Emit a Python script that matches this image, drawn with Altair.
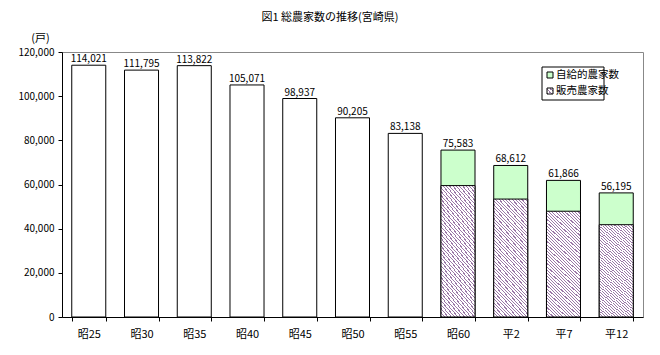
import altair as alt
import pandas as pd

categories = ["昭25", "昭30", "昭35", "昭40", "昭45", "昭50", "昭55", "昭60", "平2", "平7", "平12"]
totals = [114021, 111795, 113822, 105071, 98937, 90205, 83138, 75583, 68612, 61866, 56195]
sales = [None, None, None, None, None, None, None, 59500, 53400, 47900, 41800]
y_ticks = [0, 20000, 40000, 60000, 80000, 100000, 120000]

FONT = "Noto Sans CJK JP"
GREEN = "#ccffcc"
PURPLE = "#9c78a8"


def hatch(n, x1, y1, x2, y2, frac=0.34):
    stops = []
    for k in range(n):
        a = k / n
        b = (k + frac) / n
        c = (k + 1) / n
        stops += [
            alt.GradientStop(offset=a, color=PURPLE),
            alt.GradientStop(offset=b, color=PURPLE),
            alt.GradientStop(offset=b, color="white"),
            alt.GradientStop(offset=c, color="white"),
        ]
    return alt.LinearGradient(gradient="linear", stops=stops, x1=x1, y1=y1, x2=x2, y2=y2)


df = pd.DataFrame({
    "category": categories,
    "total": totals,
    "sales": sales,
    "label": [f"{v:,}" for v in totals],
})
df_old = df[df["sales"].isna()]
df_new = df[df["sales"].notna()]

x_enc = alt.X(
    "category:N",
    sort=categories,
    scale=alt.Scale(domain=categories, paddingInner=0.355, paddingOuter=0.185),
    axis=alt.Axis(
        title=None, labelAngle=0, tickBand="extent", tickSize=4,
        labelFontSize=11, labelPadding=7, labelFont=FONT, labelColor="black",
        domainColor="black", tickColor="black",
    ),
)
y_scale = alt.Scale(domain=[0, 120000], nice=False)
y_axis = alt.Axis(
    values=y_ticks, format=",d", grid=False, title="(戸)", titleAngle=0,
    titleX=-22, titleY=-14, titleAlign="center", titleBaseline="middle",
    titleFont=FONT, titleFontSize=11, titleFontWeight="normal", titleColor="black",
    labelFont=FONT, labelFontSize=10, labelColor="black", tickSize=4,
    domainColor="black", tickColor="black", labelPadding=4,
)

old_bars = alt.Chart(df_old).mark_bar(fill="white", stroke="black", strokeWidth=1).encode(
    x=x_enc, y=alt.Y("total:Q", scale=y_scale, axis=y_axis), y2=alt.datum(0)
)
green_bars = alt.Chart(df_new).mark_bar(fill=GREEN, stroke="black", strokeWidth=1).encode(
    x=x_enc, y=alt.Y("total:Q", scale=y_scale, axis=y_axis), y2=alt.datum(0)
)
hatch_bars = alt.Chart(df_new).mark_bar(
    fill=hatch(44, 0, 1, 0.369, -0.194), stroke="black", strokeWidth=1
).encode(
    x=x_enc, y=alt.Y("sales:Q", scale=y_scale, axis=y_axis), y2=alt.datum(0)
)
labels = alt.Chart(df).mark_text(font=FONT, fontSize=10, dy=-6, color="black").encode(
    x=x_enc, y=alt.Y("total:Q", scale=y_scale, axis=y_axis), text="label:N"
)

one = pd.DataFrame({"a": [0]})
title = alt.Chart(one).mark_text(font=FONT, fontSize=11, color="black").encode(
    x=alt.value(268), y=alt.value(-34), text=alt.value("図1  総農家数の推移(宮崎県)")
)
leg_box = alt.Chart(one).mark_rect(fill="white", stroke="black", strokeWidth=1).encode(
    x=alt.value(480), x2=alt.value(542), y=alt.value(15), y2=alt.value(48)
)
leg_sq1 = alt.Chart(one).mark_rect(fill=GREEN, stroke="black", strokeWidth=1).encode(
    x=alt.value(485), x2=alt.value(491), y=alt.value(20), y2=alt.value(26)
)
leg_sq2 = alt.Chart(one).mark_rect(fill=hatch(3, 0, 1, 1, 0, 0.45), stroke="black", strokeWidth=1).encode(
    x=alt.value(485), x2=alt.value(491), y=alt.value(36), y2=alt.value(42)
)
leg_t1 = alt.Chart(one).mark_text(font=FONT, fontSize=10.5, align="left", baseline="middle", color="black").encode(
    x=alt.value(494), y=alt.value(23), text=alt.value("自給的農家数")
)
leg_t2 = alt.Chart(one).mark_text(font=FONT, fontSize=10.5, align="left", baseline="middle", color="black").encode(
    x=alt.value(494), y=alt.value(39), text=alt.value("販売農家数")
)

chart = alt.layer(
    old_bars, green_bars, hatch_bars, labels, title,
    leg_box, leg_sq1, leg_sq2, leg_t1, leg_t2,
).properties(
    width=581, height=265,
    autosize=alt.AutoSizeParams(type="none"),
    padding={"left": 62, "top": 52, "right": 17, "bottom": 38},
    background="white",
).configure_view(stroke="#888888", strokeWidth=1)

chart.save("out.html", embed_options={"renderer": "svg", "actions": False})
